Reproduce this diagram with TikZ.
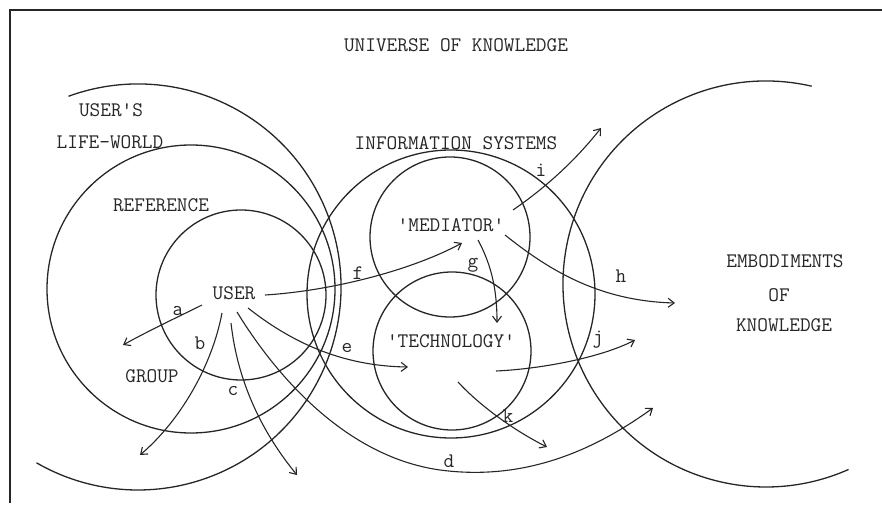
\documentclass[tikz,border=0pt]{standalone}
\usetikzlibrary{arrows.meta}
\begin{document}
\begin{tikzpicture}[x=1pt,y=1pt,
  ring/.style={line width=1.3pt, draw=black!85},
  link/.style={line width=1.1pt, draw=black!85, -{Straight Barb[length=6pt,width=9pt,line width=1.1pt]}},
  lbl/.style={font=\fontsize{20.7}{24}\selectfont\ttfamily, text=black!85, inner sep=0pt}]
\useasboundingbox (0,0) rectangle (882,506);
% frame
\coordinate (fb) at (10,3);
\coordinate (fc) at (10,496);
\coordinate (fr) at (882,496);
\draw[line width=1.8pt, black!85] (fb) -- (fc) -- (fr);
% circles
\coordinate (lwC) at (138,219);
\coordinate (rgC) at (191,217);
\coordinate (usC) at (241,211);
\coordinate (isC) at (451,212);
\coordinate (mdC) at (450,269);
\coordinate (tcC) at (452,155);
\coordinate (emC) at (766,222);
\draw[ring] (lwC) ++(110:203pt) arc[start angle=110, end angle=-120, radius=203pt];
\draw[ring] (rgC) circle[radius=144pt];
\draw[ring] (usC) circle[radius=85pt];
\draw[ring] (isC) circle[radius=144pt];
\draw[ring] (mdC) circle[radius=80pt];
\draw[ring] (tcC) circle[radius=79pt];
\draw[ring] (emC) ++(77:203pt) arc[start angle=77, end angle=294, radius=203pt];
% labels
\node[lbl] (univ) at (456,461) {UNIVERSE OF KNOWLEDGE};
\node[lbl] (users) at (111,396) {USER'S};
\node[lbl] (life) at (110,364) {LIFE-WORLD};
\node[lbl] (infosys) at (456,363) {INFORMATION SYSTEMS};
\node[lbl] (ref) at (161,301) {REFERENCE};
\node[lbl] (group) at (152,130) {GROUP};
\node[lbl] (user) at (234,213) {USER};
\node[lbl] (med) at (451,281) {'MEDIATOR'};
\node[lbl] (tech) at (451,165) {'TECHNOLOGY'};
\node[lbl] (emb) at (785,245) {EMBODIMENTS};
\node[lbl] (of) at (779,211) {OF};
\node[lbl] (know) at (784,181) {KNOWLEDGE};
% letters
\node[lbl] (la) at (178,195) {a};
\node[lbl] (lb) at (200,163) {b};
\node[lbl] (lc) at (233,115) {c};
\node[lbl] (ld) at (449,45) {d};
\node[lbl] (le) at (347,158) {e};
\node[lbl] (lf) at (358,233) {f};
\node[lbl] (lg) at (473,241) {g};
\node[lbl] (lh) at (621,230) {h};
\node[lbl] (li) at (541,336) {i};
\node[lbl] (lj) at (598,166) {j};
\node[lbl] (lk) at (508,90) {k};
% arrow endpoints
\coordinate (aS) at (202,201); \coordinate (aE) at (123,161);
\coordinate (bS) at (222,193); \coordinate (bE) at (140,51);
\coordinate (cS) at (231,183); \coordinate (cE) at (297,31);
\coordinate (dS) at (237,194); \coordinate (dM) at (440,36); \coordinate (dE) at (653,98);
\coordinate (eS) at (248,198); \coordinate (eE) at (408,139);
\coordinate (fS) at (265,211); \coordinate (fE) at (462,263);
\coordinate (gS) at (478,266); \coordinate (gE) at (497,183);
\coordinate (hS) at (505,271); \coordinate (hE) at (675,203);
\coordinate (iS) at (513,296); \coordinate (iE) at (601,378);
\coordinate (jS) at (496,135); \coordinate (jE) at (635,166);
\coordinate (kS) at (458,124); \coordinate (kE) at (547,59);
% arrows
\draw[link] (aS) .. controls (180,190) and (150,176) .. (aE);
\draw[link] (bS) .. controls (212,140) and (180,85) .. (bE);
\draw[link] (cS) .. controls (238,120) and (265,70) .. (cE);
\draw[link] (dS) .. controls (270,140) and (340,50) .. (dM) .. controls (530,24) and (600,60) .. (dE);
\draw[link] (eS) .. controls (290,165) and (340,140) .. (eE);
\draw[link] (fS) .. controls (330,215) and (410,235) .. (fE);
\draw[link] (gS) .. controls (492,240) and (497,215) .. (gE);
\draw[link] (hS) .. controls (550,235) and (600,205) .. (hE);
\draw[link] (iS) .. controls (545,318) and (575,345) .. (iE);
\draw[link] (jS) .. controls (540,137) and (600,148) .. (jE);
\draw[link] (kS) .. controls (480,100) and (515,75) .. (kE);
\end{tikzpicture}
\end{document}
